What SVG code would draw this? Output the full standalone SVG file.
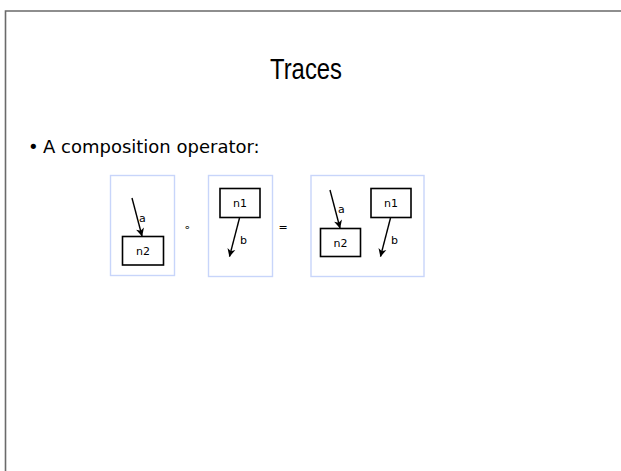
<svg xmlns="http://www.w3.org/2000/svg" width="621" height="471" viewBox="0 0 621 471">
  <style>
    .frame { fill: none; stroke: #6a6a6a; stroke-width: 1.6; }
    .panel { fill: #ffffff; stroke: #c8d5fa; stroke-width: 1.4; }
    .node rect { fill: #ffffff; stroke: #000000; stroke-width: 1.6; }
    .node text, .lbl { font-family: "DejaVu Sans", sans-serif; font-size: 11px; fill: #000000; }
    .node text { text-anchor: middle; }
    .edge { stroke: #000000; stroke-width: 1.4; fill: none; marker-end: url(#tip); }
    .title { font-family: "Liberation Sans", sans-serif; font-size: 29px; fill: #000000; }
    .body { font-family: "DejaVu Sans", sans-serif; font-size: 18px; fill: #000000; }
    .op { font-family: "DejaVu Sans", sans-serif; font-size: 11px; fill: #000000; text-anchor: middle; }
  </style>
  <defs>
    <marker id="tip" viewBox="0 0 10 10" refX="9" refY="5" markerWidth="9" markerHeight="9" markerUnits="userSpaceOnUse" orient="auto">
      <path d="M0.5,0.5 L9.5,5 L0.5,9.5 L3,5 Z" fill="#000000"/>
    </marker>
  </defs>

  <rect width="621" height="471" fill="#ffffff"/>
  <path class="frame" d="M5.5,471 V11 H621"/>

  <text class="title" x="270" y="79" textLength="72" lengthAdjust="spacingAndGlyphs">Traces</text>
  <text class="body" x="28" y="153">•</text>
  <text class="body" x="43" y="153">A composition operator:</text>

  <!-- panels -->
  <rect class="panel" x="110.5" y="175.5" width="64" height="100"/>
  <rect class="panel" x="208.5" y="175.5" width="64" height="101"/>
  <rect class="panel" x="311" y="175.5" width="113" height="101"/>

  <text class="op" x="187" y="231">∘</text>
  <text class="op" x="283" y="231">=</text>

  <!-- left operand -->
  <g id="l-n2" class="node">
    <rect x="122.5" y="236.5" width="41" height="28.5"/>
    <text x="143" y="255">n2</text>
  </g>
  <!-- right operand -->
  <g id="r-n1" class="node">
    <rect x="220" y="188.5" width="40" height="29"/>
    <text x="240" y="207">n1</text>
  </g>
  <!-- result -->
  <g id="c-n2" class="node">
    <rect x="320.5" y="228.5" width="40" height="28"/>
    <text x="340.5" y="247">n2</text>
  </g>
  <g id="c-n1" class="node">
    <rect x="371" y="188.5" width="40" height="29"/>
    <text x="391" y="207">n1</text>
  </g>

  <g id="connectors">
    <line class="edge" x1="132" y1="198" x2="142" y2="236"/>
    <text class="lbl" x="139" y="222">a</text>
    <line class="edge" x1="239.5" y1="218" x2="229.5" y2="256.5"/>
    <text class="lbl" x="240" y="244">b</text>
    <line class="edge" x1="330" y1="190" x2="340" y2="228"/>
    <text class="lbl" x="338" y="213">a</text>
    <line class="edge" x1="390.5" y1="218" x2="380.5" y2="256.5"/>
    <text class="lbl" x="391" y="244">b</text>
  </g>
</svg>
